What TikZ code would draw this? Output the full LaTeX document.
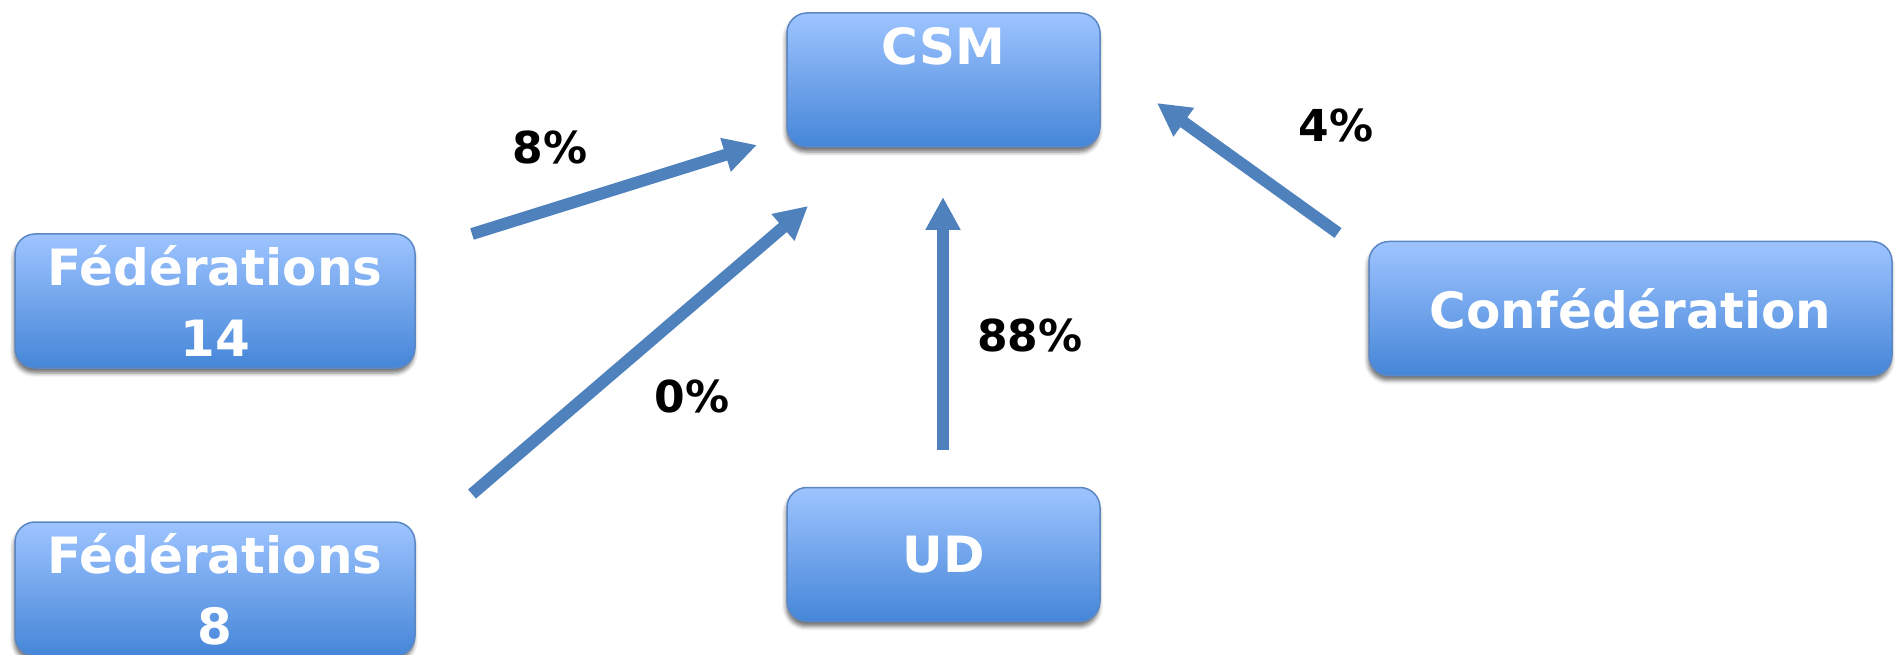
\documentclass[tikz,border=0pt]{standalone}
\usepackage{fontspec}
\setmainfont{DejaVu Sans}
\usetikzlibrary{arrows.meta, shadows.blur}
\usepackage{xcolor}
\definecolor{boxTop}{HTML}{9EC4FF}
\definecolor{boxBottom}{HTML}{4586D8}
\definecolor{boxBorder}{HTML}{5B87C4}
\definecolor{arrowBlue}{HTML}{4F81BD}
\tikzset{
    % arrow style
    >={Triangle[length=33pt, width=33pt]},
    flow/.style = {->, draw=arrowBlue, line width=12pt},
    % percentage labels
    pct/.style = {font=\fontsize{44}{50}\selectfont\bfseries, text=black},
    % abstract base node style
    base/.style = {
        draw=boxBorder, line width=1.5pt, rectangle, rounded corners=20pt,
        top color=boxTop, bottom color=boxBottom,
        minimum height=134pt, text=white, align=center,
        font=\fontsize{50}{71}\selectfont\bfseries,
        blur shadow={shadow xshift=-1pt, shadow yshift=-5pt,
            shadow blur radius=4pt, shadow opacity=55}
    },
    % special node styles (inherited from base style)
    centerBox/.style = {base, minimum width=313pt},
    fedBox/.style = {base, minimum width=400pt},
    confBox/.style = {base, minimum width=523pt}
}

\begin{document}
\begin{tikzpicture}[x=1pt, y=-1pt]
        \useasboundingbox (0,0) rectangle (1899,655);
        % place the boxes
        \node[centerBox] (csm) at (943.5,80) {CSM\\[-24pt]\strut};
        \node[fedBox] (federations14) at (215,301) {Fédérations\\14};
        \node[fedBox] (federations8) at (215,589) {Fédérations\\8};
        \node[centerBox] (ud) at (943.5,554.5) {UD};
        \node[confBox] (confederation) at (1630.5,308.5) {Confédération};
        % free ends of the arrows
        \coordinate (fed14Out) at (472,234);
        \coordinate (csmIn14) at (757,145);
        \coordinate (fed8Out) at (472,494);
        \coordinate (csmIn8) at (808,206);
        \coordinate (udOut) at (943,450);
        \coordinate (csmInUd) at (943,197);
        \coordinate (confOut) at (1338,233);
        \coordinate (csmInConf) at (1157,103);
        % draw straight arrows and add nodes of text
        \draw[flow] (fed14Out) -- node[pct, xshift=-64.5pt, yshift=42.5pt] {8\%} (csmIn14);
        \draw[flow] (fed8Out) -- node[pct, xshift=52pt, yshift=-46pt] {0\%} (csmIn8);
        \draw[flow] (udOut) -- node[pct, xshift=87pt, yshift=-11.5pt] {88\%} (csmInUd);
        \draw[flow] (confOut) -- node[pct, xshift=88.5pt, yshift=43pt] {4\%} (csmInConf);
    \end{tikzpicture}
\end{document}
